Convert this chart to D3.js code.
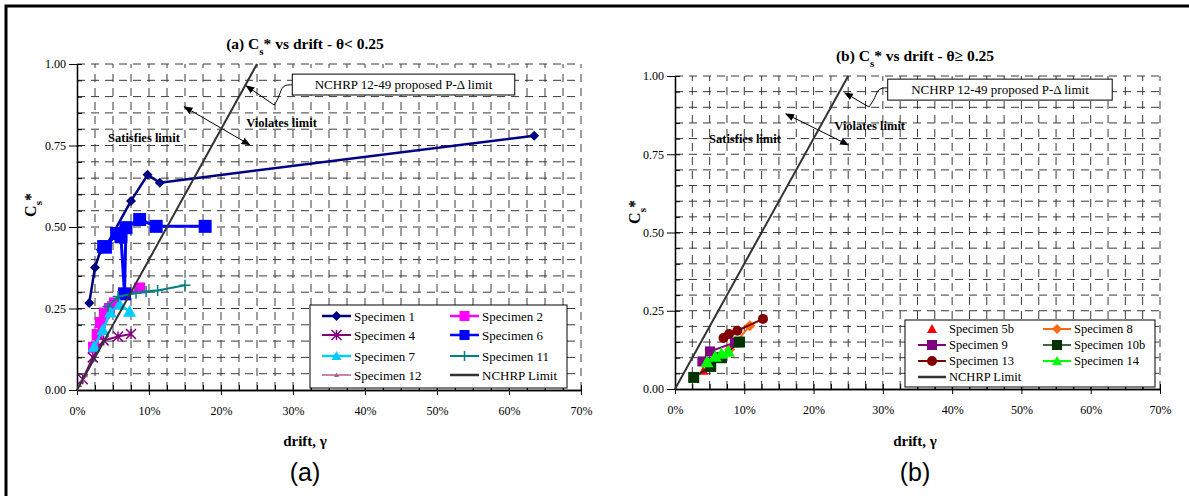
<!DOCTYPE html>
<html>
<head>
<meta charset="utf-8">
<script src="https://d3js.org/d3.v7.min.js"></script>
<style>
  body { margin: 0; background: #fff; }
  svg text { font-family: "Liberation Serif", "Times New Roman", "DejaVu Serif", serif; fill: #000; }
</style>
</head>
<body>
<script>
// ---- data (drift in %, Cs*) ----
var driftTicks = [0, 10, 20, 30, 40, 50, 60, 70];
var csTicks = [0, 0.25, 0.5, 0.75, 1.0];
var nchrpLimit = [[0, 0], [25, 1.0]];

// panel (a): theta < 0.25
var spec1  = [[1.7, 0.267], [2.5, 0.376], [3.3, 0.43], [4.0, 0.44], [7.5, 0.58], [9.8, 0.66], [11.5, 0.636], [63.5, 0.78]];
var spec2  = [[2.3, 0.131], [2.8, 0.17], [3.25, 0.207], [3.8, 0.236], [4.5, 0.25], [5.2, 0.267], [8.7, 0.313]];
var spec4  = [[0.8, 0.033], [2.2, 0.10], [3.7, 0.152], [5.7, 0.164], [7.5, 0.172]];
var spec6  = [[3.7, 0.44], [3.95, 0.438], [5.5, 0.48], [6.1, 0.47], [6.6, 0.295], [6.8, 0.498], [8.7, 0.523], [11.0, 0.502], [17.8, 0.502]];
var spec7  = [[2.4, 0.133], [3.6, 0.185], [4.65, 0.238], [5.9, 0.262], [7.3, 0.241]];
var spec11 = [[4.3, 0.256], [5.7, 0.287], [8.2, 0.297], [9.6, 0.302], [11.2, 0.305], [15.0, 0.321]];
var spec12 = [[0.4, 0.015], [0.8, 0.03], [1.2, 0.045]];

// panel (b): theta >= 0.25
var spec5b = [[4.1, 0.058], [5.0, 0.07]];
var spec8  = [[5.0, 0.072], [6.6, 0.10], [7.9, 0.126], [10.8, 0.202]];
var spec9  = [[3.95, 0.088], [5.05, 0.12], [8.66, 0.149]];
var spec10b = [[2.7, 0.037], [5.15, 0.072], [6.7, 0.10], [9.3, 0.15]];
var spec13 = [[7.0, 0.163], [7.8, 0.176], [9.0, 0.186], [12.7, 0.224]];
var spec14 = [[4.6, 0.086], [5.8, 0.104], [6.7, 0.113], [7.7, 0.12]];

var SERIF = "'Liberation Serif', 'Times New Roman', 'DejaVu Serif', serif";

var svg = d3.select("body").append("svg")
    .attr("width", 1189).attr("height", 496)
    .style("font-family", SERIF);

// outer frame
svg.append("rect")
    .attr("x", 6).attr("y", 6).attr("width", 1200).attr("height", 510)
    .attr("fill", "none").attr("stroke", "#000").attr("stroke-width", 3);

var defs = svg.append("defs");
defs.append("marker")
    .attr("id", "arrow")
    .attr("viewBox", "0 0 10 10").attr("refX", 9).attr("refY", 5)
    .attr("markerWidth", 9).attr("markerHeight", 9)
    .attr("markerUnits", "userSpaceOnUse")
    .attr("orient", "auto-start-reverse")
  .append("path").attr("d", "M0,1L10,5L0,9Z").attr("fill", "#000");

function markerPath(type, r) {
    switch (type) {
        case "diamond": return "M0," + (-r) + "L" + r + ",0L0," + r + "L" + (-r) + ",0Z";
        case "square": return "M" + (-r) + "," + (-r) + "h" + (2 * r) + "v" + (2 * r) + "h" + (-2 * r) + "Z";
        case "triangle": return "M0," + (-r) + "L" + r + "," + (r * 0.8) + "L" + (-r) + "," + (r * 0.8) + "Z";
        case "circle": return d3.symbol(d3.symbolCircle, Math.PI * r * r)();
        case "star": return "M" + (-r) + "," + (-r) + "L" + r + "," + r + "M" + (-r) + "," + r + "L" + r + "," + (-r) + "M0," + (-r) + "L0," + r;
        case "plus": return "M" + (-r) + ",0H" + r + "M0," + (-r) + "V" + r;
    }
    return "";
}
var strokeMarkers = {star: true, plus: true};

function drawMarker(g, type, r, color) {
    var p = g.append("path").attr("d", markerPath(type, r));
    if (strokeMarkers[type]) p.attr("fill", "none").attr("stroke", color).attr("stroke-width", 1.5);
    else p.attr("fill", color);
    return p;
}

function subText(t, pre, sub, post, subSize) {
    t.append("tspan").text(pre);
    t.append("tspan").attr("baseline-shift", "sub").attr("font-size", subSize).text(sub);
    t.append("tspan").text(post);
}

function drawPanel(cfg) {
    var x = d3.scaleLinear().domain([0, 70]).range([cfg.x0, cfg.x1]);
    var y = d3.scaleLinear().domain([0, 1]).range([cfg.y0, cfg.y1]);
    var g = svg.append("g");

    // dashed grid
    g.selectAll(".vg").data(d3.range(2.5, 70.01, 2.5)).enter().append("line")
        .attr("x1", d => x(d)).attr("x2", d => x(d))
        .attr("y1", y(0)).attr("y2", y(1))
        .attr("stroke", "#3a3a3a").attr("stroke-width", 1).attr("stroke-dasharray", "8,6");
    g.selectAll(".hg").data(d3.range(0.05, 1.001, 0.05)).enter().append("line")
        .attr("x1", x(0)).attr("x2", x(70))
        .attr("y1", d => y(d)).attr("y2", d => y(d))
        .attr("stroke", "#3a3a3a").attr("stroke-width", 1).attr("stroke-dasharray", "8,6");

    // axes
    g.append("g").attr("transform", "translate(0," + y(0) + ")")
        .call(d3.axisBottom(x).tickValues(driftTicks).tickFormat(d => d + "%")
            .tickSize(5).tickSizeOuter(0).tickPadding(11));
    g.append("g").attr("transform", "translate(0," + y(0) + ")")
        .call(d3.axisTop(x).tickValues(d3.range(0, 70.01, 2.5)).tickFormat("")
            .tickSize(5).tickSizeOuter(0));
    g.append("g").attr("transform", "translate(" + x(0) + ",0)")
        .call(d3.axisLeft(y).tickValues(csTicks).tickFormat(d3.format(".2f"))
            .tickSize(8).tickSizeOuter(0).tickPadding(3));
    g.append("g").attr("transform", "translate(" + x(0) + ",0)")
        .call(d3.axisRight(y).tickValues(d3.range(0, 1.001, 0.05)).tickFormat("")
            .tickSize(5).tickSizeOuter(0));
    g.selectAll(".domain").attr("stroke", "#000").attr("stroke-width", 1.3);
    g.selectAll(".tick line").attr("stroke", "#000");
    g.selectAll(".tick text").attr("font-family", SERIF).attr("font-size", 12).attr("fill", "#000");

    // titles
    var tt = g.append("text").attr("x", cfg.titleX).attr("y", cfg.titleY)
        .attr("font-family", SERIF)
        .attr("text-anchor", "middle").attr("font-weight", "bold").attr("font-size", 15.5);
    subText(tt, cfg.titlePre, "s", cfg.titlePost, 11);

    var yl = g.append("text").attr("transform", "translate(" + cfg.ylabX + "," + cfg.ylabY + ") rotate(-90)")
        .attr("font-family", SERIF)
        .attr("text-anchor", "middle").attr("font-weight", "bold").attr("font-size", 16);
    subText(yl, "C", "s", "*", 11);

    g.append("text").attr("x", cfg.titleX).attr("y", cfg.xlabY)
        .attr("font-family", SERIF)
        .attr("text-anchor", "middle").attr("font-weight", "bold").attr("font-size", 15)
        .text("drift, \u03b3");

    g.append("text").attr("x", cfg.titleX).attr("y", 481)
        .attr("text-anchor", "middle").attr("font-size", 25)
        .style("font-family", "'Liberation Sans', Arial, sans-serif")
        .text(cfg.panelLabel);

    // annotations
    var an = cfg.ann;
    g.append("line")
        .attr("x1", x(an.arrow[0][0])).attr("y1", y(an.arrow[0][1]))
        .attr("x2", x(an.arrow[1][0])).attr("y2", y(an.arrow[1][1]))
        .attr("stroke", "#000").attr("stroke-width", 1)
        .attr("marker-start", "url(#arrow)").attr("marker-end", "url(#arrow)");
    g.append("text").attr("x", x(an.violates[0])).attr("y", y(an.violates[1]))
        .attr("font-family", SERIF)
        .attr("text-anchor", "middle").attr("dy", "0.35em").attr("font-weight", "bold")
        .attr("font-size", cfg.annSize).text("Violates limit");
    g.append("text").attr("x", x(an.satisfies[0])).attr("y", y(an.satisfies[1]))
        .attr("font-family", SERIF)
        .attr("text-anchor", "middle").attr("dy", "0.35em").attr("font-weight", "bold")
        .attr("font-size", cfg.annSize).text("Satisfies limit");

    var line = d3.line().x(d => x(d[0])).y(d => y(d[1]));
    g.append("path").attr("d", d3.line().x(d => x(d[0])).y(d => y(d[1])).curve(d3.curveBasis)(an.callout))
        .attr("fill", "none").attr("stroke", "#000").attr("stroke-width", 1);
    var last = an.callout[an.callout.length - 1];
    g.append("line")
        .attr("x1", x(last[0])).attr("y1", y(last[1]))
        .attr("x2", x(an.tip[0])).attr("y2", y(an.tip[1]))
        .attr("stroke", "#000").attr("stroke-width", 1).attr("marker-end", "url(#arrow)");
    g.append("rect")
        .attr("x", x(an.box[0])).attr("y", y(an.box[3]))
        .attr("width", x(an.box[1]) - x(an.box[0])).attr("height", y(an.box[2]) - y(an.box[3]))
        .attr("fill", "#fff").attr("stroke", "#000").attr("stroke-width", 1);
    g.append("text").attr("x", (x(an.box[0]) + x(an.box[1])) / 2).attr("y", (y(an.box[2]) + y(an.box[3])) / 2)
        .attr("font-family", SERIF)
        .attr("dy", "0.35em").attr("text-anchor", "middle").attr("font-size", cfg.boxSize)
        .text("NCHRP 12-49 proposed P-\u0394 limit");

    // series
    cfg.series.forEach(function(s) {
        if (s.width > 0) {
            g.append("path").datum(s.data).attr("d", line)
                .attr("fill", "none").attr("stroke", s.color).attr("stroke-width", s.width)
                .attr("stroke-linejoin", "round");
        }
        if (s.marker) {
            s.data.forEach(function(d) {
                var mg = g.append("g").attr("transform", "translate(" + x(d[0]) + "," + y(d[1]) + ")");
                drawMarker(mg, s.marker, s.r, s.color);
            });
        }
    });
    g.append("path").datum(nchrpLimit).attr("d", line)
        .attr("fill", "none").attr("stroke", "#333").attr("stroke-width", 2);

    // legend
    var L = cfg.legend;
    var lg = g.append("g");
    lg.append("rect").attr("x", L.x).attr("y", L.y).attr("width", L.w).attr("height", L.h)
        .attr("fill", "#fff").attr("stroke", "#000").attr("stroke-width", 1);
    var entries = cfg.series.concat([{name: "NCHRP Limit", color: "#333", width: 2.5}]);
    entries.forEach(function(s, i) {
        var col = i % 2, row = Math.floor(i / 2);
        var lx = L.x + L.cols[col], ly = L.y + L.rows[row];
        var eg = lg.append("g").attr("transform", "translate(" + lx + "," + ly + ")");
        if (s.width > 0) {
            eg.append("line").attr("x1", 0).attr("x2", L.lineLen).attr("y1", 0).attr("y2", 0)
                .attr("stroke", s.color).attr("stroke-width", Math.min(s.width, 2.5));
        }
        if (s.marker) {
            var mg = eg.append("g").attr("transform", "translate(" + (L.lineLen / 2) + ",0)");
            drawMarker(mg, s.marker, Math.min(s.r, 5), s.color);
        }
        eg.append("text").attr("x", L.lineLen + 3).attr("dy", "0.35em")
            .attr("font-family", SERIF)
            .attr("font-size", L.font).text(s.name);
    });
}

drawPanel({
    x0: 77, x1: 581, y0: 390, y1: 64,
    titleX: 305, titleY: 49, titlePre: "(a) C", titlePost: "* vs drift - \u03b8< 0.25",
    ylabX: 36, ylabY: 205, xlabY: 446, panelLabel: "(a)",
    annSize: 12.5, boxSize: 13,
    ann: {
        arrow: [[14.9, 0.869], [24.0, 0.752]],
        violates: [28.4, 0.82], satisfies: [9.3, 0.773],
        callout: [[29.9, 0.936], [28.5, 0.936], [28.1, 0.90], [27.4, 0.874]],
        tip: [23.5, 0.933],
        box: [29.9, 60.8, 0.905, 0.969]
    },
    series: [
        {name: "Specimen 1", data: spec1, color: "#000080", width: 2.5, marker: "diamond", r: 5},
        {name: "Specimen 2", data: spec2, color: "#FF00FF", width: 2.5, marker: "square", r: 5.5},
        {name: "Specimen 4", data: spec4, color: "#800080", width: 2, marker: "star", r: 5},
        {name: "Specimen 6", data: spec6, color: "#0000FF", width: 3, marker: "square", r: 6.5},
        {name: "Specimen 7", data: spec7, color: "#00CCFF", width: 2.5, marker: "triangle", r: 6.5},
        {name: "Specimen 11", data: spec11, color: "#008080", width: 2, marker: "plus", r: 5.5},
        {name: "Specimen 12", data: spec12, color: "#B0608A", width: 1.5, marker: "triangle", r: 2.5}
    ],
    legend: {x: 310, y: 305, w: 257, h: 83, rows: [11, 30, 51, 70], cols: [12, 140], lineLen: 29, font: 13}
});

drawPanel({
    x0: 675, x1: 1160, y0: 389, y1: 76,
    titleX: 915, titleY: 61, titlePre: "(b) C", titlePost: "* vs drift - \u03b8\u2265 0.25",
    ylabX: 640, ylabY: 212, xlabY: 446, panelLabel: "(b)",
    annSize: 12.5, boxSize: 13,
    ann: {
        arrow: [[16.0, 0.879], [25.0, 0.78]],
        violates: [28.1, 0.84], satisfies: [10.1, 0.799],
        callout: [[30.7, 0.962], [29.3, 0.962], [28.9, 0.93], [28.0, 0.901]],
        tip: [24.5, 0.946],
        box: [30.7, 63.1, 0.923, 0.99]
    },
    series: [
        {name: "Specimen 5b", data: spec5b, color: "#FF0000", width: 0, marker: "triangle", r: 5},
        {name: "Specimen 8", data: spec8, color: "#FF6A10", width: 2, marker: "diamond", r: 5.5},
        {name: "Specimen 9", data: spec9, color: "#800080", width: 2, marker: "square", r: 5},
        {name: "Specimen 10b", data: spec10b, color: "#003300", width: 1.5, marker: "square", r: 5.5},
        {name: "Specimen 13", data: spec13, color: "#800000", width: 2, marker: "circle", r: 5},
        {name: "Specimen 14", data: spec14, color: "#00FF00", width: 2, marker: "triangle", r: 6.5}
    ],
    legend: {x: 905, y: 320, w: 250, h: 67, rows: [9, 25, 41, 57], cols: [13, 138], lineLen: 28, font: 12.5}
});
</script>
</body>
</html>
